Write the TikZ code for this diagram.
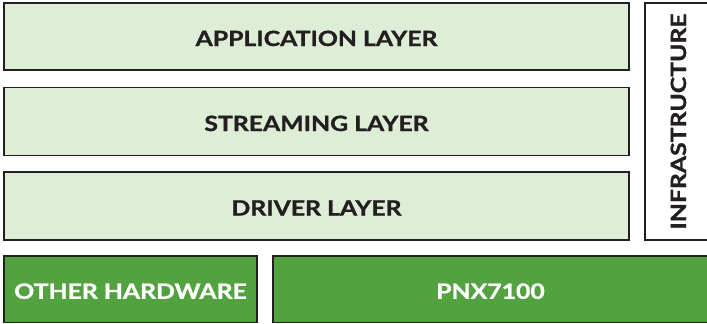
\documentclass[tikz,border=0pt]{standalone}
\usepackage{fontspec}
\setmainfont{Lato}[BoldFeatures={FakeStretch=1.18,FakeBold=1.2}]
\definecolor{edge}{HTML}{231F20}
\definecolor{ink}{HTML}{231F20}
\definecolor{softgreen}{HTML}{DEEDD5}
\definecolor{hardgreen}{HTML}{52A23F}
\begin{document}
\begin{tikzpicture}[x=1pt,y=-1pt,
  box/.style={draw=edge, line width=1.5pt, inner sep=0pt, text height=19pt, text depth=0pt,
    font=\bfseries\fontsize{21}{25}\selectfont},
  soft/.style={box, fill=softgreen, text=ink},
  hard/.style={box, fill=hardgreen, text=white},
  plain/.style={box, fill=white, text=ink}]
\useasboundingbox (0,0) rectangle (707,324);
\clip (0,0) rectangle (707,324);
\node[soft, minimum width=625pt, minimum height=67pt] (app) at (316.5,36.5) {APPLICATION LAYER};
\node[soft, minimum width=625pt, minimum height=68pt] (stream) at (316.5,121.5) {STREAMING LAYER};
\node[soft, minimum width=625pt, minimum height=68pt] (driver) at (316.5,206) {DRIVER LAYER};
\node[plain, minimum width=237pt, minimum height=63pt, rotate=90] (infra) at (676.5,121.5) {INFRASTRUCTURE};
\node[hard, minimum width=253pt, minimum height=66.5pt] (other) at (130.5,289.25) {OTHER HARDWARE};
\node[hard, minimum width=435pt, minimum height=66.5pt] (pnx) at (490.5,289.25) {PNX7100};
\end{tikzpicture}
\end{document}
